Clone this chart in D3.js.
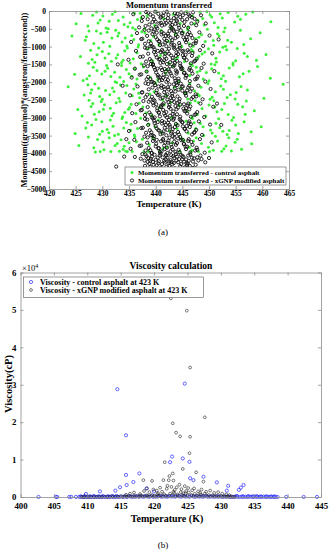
<!DOCTYPE html>
<html><head><meta charset="utf-8">
<script src="https://cdn.jsdelivr.net/npm/d3@7"></script>
<style>
body{margin:0;background:#fff}
text{font-family:"Liberation Serif","Times New Roman",serif}
</style></head><body>
<script>
// ---- (a) momentum transferred: [temperature K, momentum]
var tempTicksA = [420,425,430,435,440,445,450,455,460,465];
var momTicks = [0,-500,-1000,-1500,-2000,-2500,-3000,-3500,-4000,-4500,-5000];
var momControl = [
[432.4,-20],[437.1,-60],[445.8,-15],[450.2,-110],[428.9,-30],[441.5,-210],[453.6,-40],[435.2,-330],[447.9,-260],[426.0,-70],[439.8,-410],[455.4,-150],[430.7,-480],[443.3,-90],[449.1,-390],[433.9,-170],[458.2,-30],[436.6,-240],[451.7,-460],[428.2,-120],[444.6,-350],[440.2,-20],[446.9,-140],[431.3,-290],[454.8,-310],[438.4,-130],[442.9,-470],[425.1,-360],[452.5,-200],[434.8,-440],[448.3,-30],[437.9,-500],[461.6,-300],[429.6,-250],[456.9,-90],
[427.5,-560],[433.1,-620],[439.6,-710],[445.2,-590],[450.8,-830],[455.9,-540],[430.2,-880],[436.8,-950],[442.4,-860],[448.6,-670],[453.1,-990],[424.3,-700],[441.0,-540],[446.3,-920],[431.8,-760],[437.4,-580],[457.8,-780],[434.6,-980],[449.7,-510],[443.7,-640],[428.4,-910],[451.9,-700],[439.1,-830],[435.5,-690],[447.5,-780],[459.6,-610],[432.5,-540],[444.9,-1000],[426.8,-820],[454.2,-880],[440.6,-950],[438.0,-620],
[429.3,-1040],[434.2,-1120],[440.9,-1250],[446.7,-1080],[451.3,-1330],[456.6,-1190],[431.7,-1410],[437.3,-1480],[443.8,-1360],[449.2,-1150],[454.5,-1460],[425.9,-1280],[438.6,-1060],[445.4,-1420],[432.9,-1230],[448.1,-1270],[458.9,-1380],[435.8,-1340],[452.6,-1020],[441.7,-1180],[427.8,-1100],[450.4,-1490],[436.5,-1170],[444.1,-1300],[433.6,-1450],[460.7,-1220],[430.5,-1320],[447.0,-1130],[439.4,-1400],[455.3,-1050],[442.5,-1470],[428.6,-1440],
[430.8,-1530],[436.1,-1620],[441.9,-1740],[447.6,-1580],[452.7,-1820],[457.5,-1690],[427.1,-1900],[434.0,-1980],[439.0,-1870],[445.0,-1650],[450.0,-1960],[424.8,-1780],[443.2,-1550],[448.9,-1910],[432.3,-1720],[437.7,-1570],[455.7,-1850],[435.0,-1760],[453.8,-1600],[440.4,-1930],[429.0,-1670],[446.4,-1810],[438.3,-1700],[451.1,-1510],[433.3,-1860],[459.1,-1560],[431.0,-1610],[444.3,-1990],[426.4,-1950],[449.5,-1730],[442.1,-1640],[461.5,-1890],
[423.6,-2130],[463.9,-2060],[428.0,-2210],[433.4,-2080],[438.9,-2330],[444.7,-2170],[450.6,-2420],[455.1,-2290],[430.0,-2480],[436.3,-2050],[442.0,-2390],[447.3,-2250],[452.2,-2110],[426.6,-2360],[440.0,-2020],[446.0,-2470],[431.9,-2160],[437.0,-2440],[457.2,-2220],[434.4,-2300],[449.8,-2040],[443.5,-2140],[429.5,-2400],[454.0,-2350],[439.7,-2270],[435.9,-2190],[448.2,-2380],[460.3,-2450],[432.7,-2010],[445.6,-2310],[441.3,-2490],[427.3,-2070],
[429.8,-2540],[435.4,-2620],[440.7,-2710],[446.5,-2580],[451.5,-2830],[456.3,-2690],[428.5,-2900],[433.8,-2970],[438.2,-2860],[444.4,-2650],[449.4,-2950],[425.4,-2770],[442.8,-2560],[447.8,-2910],[431.5,-2730],[436.9,-2590],[458.5,-2800],[434.9,-2760],[452.9,-2600],[439.3,-2930],[427.9,-2680],[445.9,-2820],[437.6,-2700],[450.9,-2520],[432.1,-2870],[454.6,-2990],[430.4,-2630],[443.0,-2990],[426.2,-2950],[448.7,-2740],[441.6,-2640],[457.0,-2530],
[428.8,-3050],[434.5,-3130],[439.9,-3260],[445.7,-3090],[450.3,-3340],[455.0,-3200],[431.2,-3420],[436.0,-3480],[442.6,-3370],[448.4,-3160],[453.4,-3470],[426.9,-3290],[440.5,-3060],[446.1,-3430],[432.0,-3240],[437.2,-3010],[457.9,-3390],[435.3,-3350],[451.8,-3030],[443.9,-3190],[429.9,-3110],[449.0,-3500],[438.7,-3180],[444.0,-3310],[433.0,-3460],[459.8,-3250],[430.9,-3330],[447.2,-3140],[441.1,-3410],[454.3,-3070],[424.9,-3440],[452.0,-3280],
[427.4,-3540],[433.5,-3620],[438.8,-3750],[444.8,-3580],[449.9,-3830],[454.9,-3690],[430.3,-3900],[435.6,-3950],[441.4,-3860],[447.1,-3650],[452.4,-3940],[425.6,-3780],[439.5,-3560],[446.8,-3910],[432.8,-3720],[437.5,-3600],[456.1,-3880],[434.1,-3800],[451.2,-3520],[443.1,-3700],[429.1,-3610],[448.0,-3950],[436.4,-3670],[442.2,-3820],[431.6,-3950],[458.0,-3730],[428.7,-3960],[445.3,-3640],[440.8,-3950],[453.7,-3560],[433.2,-3940],[450.1,-3950],[437.8,-3960],[444.5,-3940],[446.6,-3960],[434.7,-3950],
[430.1,-140],[434.1,-380],[436.0,-60],[448.8,-210],[451.0,-330],[453.0,-480],[427.3,-420],[431.9,-90],[446.1,-450],[449.6,-20],[433.0,-270],[455.9,-230],[429.2,-340],[437.3,-190],[452.1,-80],[447.2,-360],[435.7,-470],[450.5,-170],[431.1,-500],
[429.7,-630],[433.7,-870],[436.2,-520],[448.1,-740],[450.9,-960],[452.8,-580],[427.0,-720],[431.4,-990],[446.0,-530],[449.3,-860],[432.9,-700],[456.5,-940],[428.9,-560],[435.9,-800],[451.6,-640],[447.0,-990],[434.3,-760],[453.5,-820],[430.9,-600],
[430.0,-1140],[433.9,-1380],[436.7,-1010],[448.7,-1210],[451.4,-1430],[453.3,-1090],[427.4,-1470],[431.2,-1200],[446.5,-1490],[449.9,-1060],[432.6,-1320],[457.2,-1280],[429.0,-1230],[435.2,-1460],[452.0,-1150],[447.7,-1350],[434.7,-1040],[455.0,-1400],[428.1,-1360],
[429.9,-1770],[433.6,-1530],[436.5,-1910],[448.3,-1680],[451.8,-1740],[453.1,-1970],[428.3,-1580],[431.6,-1840],[446.9,-1530],[450.5,-1620],[432.4,-1990],[456.4,-1760],[430.5,-1690],[435.5,-1830],[452.3,-1900],[447.8,-1710],[434.5,-1640],[454.5,-1520],[427.6,-1820],
[430.6,-2230],[433.1,-2450],[436.8,-2310],[448.5,-2140],[451.2,-2270],[453.4,-2430],[428.6,-2050],[431.4,-2350],[446.4,-2040],[450.2,-2480],[432.2,-2260],[456.0,-2120],[429.3,-2170],[435.6,-2380],[452.7,-2200],[447.9,-2330],[434.6,-2090],[454.9,-2470],[427.8,-2300],
[430.2,-2760],[433.3,-2540],[436.3,-2880],[448.0,-2570],[451.1,-2700],[453.6,-2910],[428.2,-2600],[431.8,-2940],[446.8,-2980],[450.0,-2640],[432.6,-2580],[456.8,-2900],[429.4,-2830],[435.1,-2710],[452.4,-2770],[447.4,-2520],[434.2,-2850],[455.4,-2620],[427.5,-2510],
[430.0,-3380],[433.7,-3020],[436.6,-3300],[448.9,-3250],[451.3,-3150],[453.8,-3360],[428.0,-3200],[431.5,-3060],[446.9,-3020],[450.6,-3430],[432.3,-3500],[456.6,-3110],[429.5,-3460],[435.4,-3180],[452.6,-3380],[447.5,-3300],[434.0,-3290],[455.5,-3440],[427.2,-3130],
[430.1,-3680],[433.9,-3880],[436.1,-3530],[448.6,-3720],[451.6,-3650],[453.2,-3790],[428.4,-3840],[431.3,-3560],[446.3,-3830],[450.8,-3910],[432.4,-3780],[455.3,-3600],[429.6,-3950],[435.0,-3700],[452.8,-3870],[447.6,-3560],[434.4,-3940],[454.2,-3930],[438.6,-3950]
];
var momGnp = [
[438.2,-30],[440.5,-80],[442.1,-20],[443.9,-150],[445.6,-60],[447.3,-220],[439.4,-310],[441.8,-260],[444.3,-400],[446.7,-350],[437.6,-170],[443.0,-480],[440.1,-440],[448.5,-120],[442.7,-330],[445.0,-250],[439.0,-100],[441.2,-410],[444.8,-40],[446.1,-470],[438.8,-380],[443.4,-200],[440.9,-190],[447.8,-300],[436.9,-460],[442.4,-110],[445.3,-420],[439.7,-240],[444.0,-290],[441.5,-50],[443.7,-360],[446.4,-140],[438.5,-230],[440.3,-490],[442.9,-270],[447.0,-40],[435.8,-90],[449.4,-350],[441.0,-330],[444.6,-170],
[437.9,-530],[440.2,-610],[442.6,-560],[444.1,-720],[446.0,-650],[447.6,-840],[439.1,-910],[441.6,-780],[443.5,-960],[445.7,-880],[438.4,-700],[442.0,-990],[440.7,-860],[448.2,-600],[443.1,-820],[445.2,-740],[439.6,-580],[441.3,-940],[444.7,-540],[446.5,-970],[437.3,-790],[443.8,-670],[440.0,-730],[447.1,-920],[436.5,-620],[442.3,-640],[445.9,-810],[439.3,-990],[444.4,-900],[441.9,-700],[443.3,-520],[446.9,-760],[438.7,-850],[440.8,-960],[442.8,-750],[448.9,-980],[435.4,-870],[450.1,-690],[441.1,-590],[444.9,-630],
[438.0,-1030],[440.4,-1120],[442.5,-1060],[444.2,-1210],[446.2,-1150],[447.7,-1340],[439.2,-1410],[441.7,-1280],[443.6,-1460],[445.8,-1380],[438.6,-1200],[442.1,-1490],[440.6,-1360],[448.3,-1100],[443.2,-1320],[445.1,-1240],[439.8,-1080],[441.4,-1440],[444.5,-1040],[446.6,-1470],[437.1,-1290],[443.9,-1170],[440.0,-1230],[447.2,-1420],[436.3,-1120],[442.2,-1140],[445.4,-1310],[439.5,-1490],[444.0,-1400],[441.8,-1200],[443.4,-1020],[446.8,-1260],[438.9,-1350],[440.9,-1460],[442.9,-1250],[449.0,-1480],[434.9,-1370],[450.6,-1190],[441.2,-1090],[445.0,-1130],
[437.8,-1530],[440.3,-1620],[442.7,-1560],[444.0,-1710],[446.3,-1650],[447.9,-1840],[439.0,-1910],[441.5,-1780],[443.7,-1960],[445.6,-1880],[438.3,-1700],[442.0,-1990],[440.8,-1860],[448.6,-1600],[443.0,-1820],[445.3,-1740],[439.7,-1580],[441.2,-1940],[444.6,-1540],[446.4,-1970],[437.0,-1790],[443.8,-1670],[440.1,-1730],[447.4,-1920],[436.1,-1620],[442.4,-1640],[445.8,-1810],[439.4,-1990],[444.3,-1900],[441.9,-1700],[443.5,-1520],[446.9,-1760],[438.6,-1850],[440.7,-1960],[442.8,-1750],[449.3,-1980],[435.5,-1870],[451.0,-1690],[441.0,-1590],[444.8,-1630],
[438.1,-2030],[440.5,-2120],[442.6,-2060],[444.3,-2210],[446.1,-2150],[447.5,-2340],[439.3,-2410],[441.6,-2280],[443.4,-2460],[445.7,-2380],[438.7,-2200],[442.2,-2490],[440.4,-2360],[448.0,-2100],[443.1,-2320],[445.0,-2240],[439.9,-2080],[441.3,-2440],[444.7,-2040],[446.7,-2470],[437.4,-2290],[443.6,-2170],[440.2,-2230],[447.0,-2420],[436.6,-2120],[442.3,-2140],[445.5,-2310],[439.6,-2490],[444.1,-2400],[441.7,-2200],[443.9,-2020],[446.5,-2260],[438.4,-2350],[440.9,-2460],[442.9,-2250],[448.8,-2480],[435.2,-2370],[450.3,-2190],[441.1,-2090],[444.9,-2130],
[437.7,-2530],[440.1,-2620],[442.4,-2560],[444.2,-2710],[446.0,-2650],[447.8,-2840],[439.1,-2910],[441.4,-2780],[443.5,-2960],[445.9,-2880],[438.5,-2700],[442.1,-2990],[440.6,-2860],[448.4,-2600],[443.3,-2820],[445.2,-2740],[439.5,-2580],[441.8,-2940],[444.4,-2540],[446.6,-2970],[437.2,-2790],[443.7,-2670],[440.3,-2730],[447.3,-2920],[436.4,-2620],[442.6,-2640],[445.6,-2810],[439.8,-2990],[444.0,-2900],[441.0,-2700],[443.0,-2520],[446.3,-2760],[438.8,-2850],[440.8,-2960],[442.8,-2750],[449.1,-2980],[435.6,-2870],[450.8,-2690],[441.5,-2590],[444.6,-2630],
[438.0,-3030],[440.4,-3120],[442.5,-3060],[444.1,-3210],[446.2,-3150],[447.6,-3340],[439.2,-3410],[441.7,-3280],[443.6,-3460],[445.8,-3380],[438.6,-3200],[442.0,-3490],[440.7,-3360],[448.1,-3100],[443.2,-3320],[445.1,-3240],[439.7,-3080],[441.3,-3440],[444.5,-3040],[446.8,-3470],[437.3,-3290],[443.8,-3170],[440.0,-3230],[447.2,-3420],[436.2,-3120],[442.3,-3140],[445.4,-3310],[439.4,-3490],[444.2,-3400],[441.9,-3200],[443.4,-3020],[446.4,-3260],[438.9,-3350],[440.9,-3460],[442.7,-3250],[448.7,-3480],[435.0,-3370],[450.2,-3190],[441.2,-3090],[445.0,-3130],
[437.9,-3530],[440.2,-3620],[442.6,-3560],[444.0,-3710],[446.1,-3650],[447.7,-3840],[439.0,-3910],[441.6,-3780],[443.7,-3960],[445.7,-3880],[438.4,-3700],[442.2,-3990],[440.5,-3860],[448.3,-3600],[443.0,-3820],[445.3,-3740],[439.6,-3580],[441.1,-3940],[444.6,-3540],[446.5,-3970],[437.0,-3790],[443.5,-3670],[440.1,-3730],[447.4,-3920],[436.0,-3620],[442.4,-3640],[445.9,-3810],[439.3,-3990],[444.3,-3900],[441.8,-3700],[443.2,-3520],[446.9,-3760],[438.7,-3850],[440.8,-3960],[442.9,-3750],[449.2,-3980],[435.3,-3870],[450.5,-3690],[441.4,-3590],[444.8,-3630],
[437.5,-4020],[438.3,-4080],[439.1,-4150],[439.8,-4040],[440.6,-4220],[441.3,-4110],[442.0,-4060],[442.8,-4190],[443.5,-4130],[444.2,-4250],[445.0,-4070],[445.7,-4170],[446.5,-4030],[447.2,-4140],[448.0,-4200],[438.8,-4290],[440.2,-4330],[441.7,-4260],[443.1,-4310],[444.6,-4360],[446.0,-4280],[447.5,-4320],[437.9,-4200],[439.5,-4240],[440.9,-4010],[442.4,-4280],[443.8,-4020],[445.3,-4230],[446.8,-4120],[448.4,-4060],[441.0,-4400],[443.6,-4420],[445.5,-4390],[439.0,-4380],[442.6,-4350],[444.9,-4440],[447.0,-4410],[438.0,-4350],[436.1,-4100],[434.1,-4090],[432.6,-4370],[449.3,-4250],[450.0,-4130],[441.9,-4170],[444.0,-4090],[440.4,-4120],[446.2,-4210],[438.6,-4130],[443.0,-4240],[445.9,-4330],
[433.8,-2100],[451.8,-800],[434.5,-3600],[452.3,-3200],[432.9,-1500],[451.5,-2600],
[439.9,-20],[441.4,-130],[443.6,-60],[445.4,-310],[438.1,-420],[440.7,-350],[442.3,-200],[444.4,-470],[446.2,-100],[437.4,-280],[443.1,-390],[441.0,-160],[439.2,-490],[445.9,-230],[442.8,-440],[440.0,-300],[444.1,-80],[447.6,-400],[438.6,-50],[443.9,-260],[441.7,-380],[446.8,-180],[439.5,-150],[442.0,-340],[445.1,-120],
[439.8,-520],[441.5,-630],[443.4,-560],[445.5,-810],[438.0,-920],[440.6,-850],[442.4,-700],[444.5,-970],[446.3,-600],[437.5,-780],[443.0,-890],[441.1,-660],[439.0,-990],[445.8,-730],[442.9,-940],[440.3,-800],[444.0,-580],[447.5,-900],[438.7,-550],[443.7,-760],[441.8,-880],[446.6,-680],[439.4,-650],[442.1,-840],[445.0,-620],
[439.6,-1020],[441.3,-1130],[443.5,-1060],[445.3,-1310],[438.2,-1420],[440.8,-1350],[442.5,-1200],[444.6,-1470],[446.0,-1100],[437.6,-1280],[443.2,-1390],[441.0,-1160],[439.1,-1490],[445.6,-1230],[442.7,-1440],[440.2,-1300],[444.2,-1080],[447.4,-1400],[438.4,-1050],[443.8,-1260],[441.6,-1380],[446.9,-1180],[439.7,-1150],[442.0,-1340],[445.2,-1120],
[439.5,-1520],[441.7,-1630],[443.3,-1560],[445.7,-1810],[438.3,-1920],[440.5,-1850],[442.6,-1700],[444.3,-1970],[446.4,-1600],[437.3,-1780],[443.6,-1890],[441.2,-1660],[439.2,-1990],[445.4,-1730],[442.3,-1940],[440.4,-1800],[444.8,-1580],[447.7,-1900],[438.5,-1550],[443.9,-1760],[441.4,-1880],[446.7,-1680],[439.9,-1650],[442.1,-1840],[445.0,-1620],
[439.7,-2020],[441.5,-2130],[443.4,-2060],[445.6,-2310],[438.1,-2420],[440.7,-2350],[442.4,-2200],[444.5,-2470],[446.3,-2100],[437.5,-2280],[443.1,-2390],[441.1,-2160],[439.0,-2490],[445.9,-2230],[442.8,-2440],[440.1,-2300],[444.0,-2080],[447.6,-2400],[438.6,-2050],[443.7,-2260],[441.9,-2380],[446.8,-2180],[439.4,-2150],[442.2,-2340],[445.1,-2120],
[439.8,-2520],[441.3,-2630],[443.5,-2560],[445.4,-2810],[438.0,-2920],[440.6,-2850],[442.5,-2700],[444.6,-2970],[446.1,-2600],[437.4,-2780],[443.2,-2890],[441.0,-2660],[439.3,-2990],[445.7,-2730],[442.7,-2940],[440.3,-2800],[444.1,-2580],[447.5,-2900],[438.7,-2550],[443.9,-2760],[441.6,-2880],[446.5,-2680],[439.6,-2650],[442.0,-2840],[445.3,-2620],
[439.5,-3020],[441.6,-3130],[443.3,-3060],[445.5,-3310],[438.2,-3420],[440.5,-3350],[442.6,-3200],[444.4,-3470],[446.3,-3100],[437.6,-3280],[443.0,-3390],[441.2,-3160],[439.1,-3490],[445.8,-3230],[442.9,-3440],[440.2,-3300],[444.7,-3080],[447.3,-3400],[438.4,-3050],[443.6,-3260],[441.5,-3380],[446.6,-3180],[439.8,-3150],[442.2,-3340],[445.0,-3120],
[439.7,-3520],[441.4,-3630],[443.5,-3560],[445.6,-3810],[438.1,-3920],[440.6,-3850],[442.3,-3700],[444.5,-3970],[446.2,-3600],[437.3,-3780],[443.2,-3890],[441.0,-3660],[439.2,-3990],[445.3,-3730],[442.8,-3940],[440.0,-3800],[444.2,-3580],[447.8,-3900],[438.5,-3550],[443.8,-3760],[441.7,-3880],[446.7,-3680],[439.5,-3650],[442.1,-3840],[445.1,-3620],
[438.1,-4030],[439.3,-4090],[440.0,-4180],[440.8,-4060],[441.6,-4210],[442.2,-4120],[442.9,-4050],[443.4,-4270],[444.4,-4160],[445.2,-4100],[446.1,-4060],[447.0,-4230],[447.8,-4110],[439.0,-4200],[441.2,-4300],[443.9,-4200],[445.8,-4280],[438.5,-4240],[440.5,-4280],[442.5,-4230],[444.8,-4300],[446.4,-4350],[437.2,-4150],[448.6,-4160],[441.9,-4040],[443.3,-4080],[444.7,-4040],[439.6,-4320],[442.0,-4380],[445.0,-4170]
];

// ---- (b) viscosity: [temperature K, viscosity cP]
var tempTicksB = [400,405,410,415,420,425,430,435,440,445];
var viscTicks = [0,10000,20000,30000,40000,50000,60000];
var viscControl = [
[402.7,20],[405.3,30],[405.5,10],[407.3,20],[407.6,40],[408.3,10],[408.8,30],[409.1,80],[409.4,20],[409.7,50],[409.8,800],[410.0,10],[410.3,60],[410.6,30],[410.9,90],[411.2,20],[411.5,40],[411.8,70],[411.9,1500],[412.1,20],[412.4,110],[412.7,30],[413.0,60],[413.3,20],[413.6,140],[413.9,50],[414.2,1700],[414.2,30],[414.5,28800],[414.5,90],[414.8,40],[414.9,2600],[415.1,160],[415.4,60],[415.8,16500],[415.8,5900],[415.9,3200],[415.7,120],[416.0,30],[416.3,210],[416.6,80],[416.9,4000],[416.9,150],[417.2,40],[417.5,260],[417.8,6300],[417.8,90],[418.1,180],[418.4,50],[418.7,300],[418.9,2300],[419.0,120],[419.3,70],[419.6,240],[420.0,1500],[419.9,40],[420.2,160],[420.5,90],[420.8,310],[421.1,60],[421.4,200],[421.7,130],[422.0,50],[422.4,9300],[422.3,270],[422.7,10800],[422.6,110],[422.9,190],[423.2,60],[423.5,330],[423.8,140],[424.1,80],[424.3,10300],[424.4,250],[424.6,30300],[424.7,100],[425.0,170],[425.3,9400],[425.4,5000],[425.3,60],[425.6,290],[425.9,4500],[425.9,120],[426.2,50],[426.5,220],[426.8,90],[427.1,160],[427.4,5400],[427.4,40],[427.7,260],[428.0,110],[428.3,70],[428.6,200],[428.9,50],[429.2,150],[429.4,3900],[429.5,90],[429.8,230],[430.1,40],[430.4,120],[430.7,70],[430.9,1700],[431.0,180],[431.1,3000],[431.3,50],[431.6,100],[431.9,30],[432.2,140],[432.5,60],[432.7,1900],[432.8,20],[433.0,2500],[433.1,90],[433.4,3200],[433.4,40],[433.7,70],[434.0,20],[434.3,110],[434.6,50],[434.9,30],[435.2,80],[435.5,20],[435.8,60],[436.1,30],[436.4,90],[436.7,20],[437.0,50],[437.3,30],[437.6,70],[437.9,20],[438.2,40],[438.5,10],[439.8,20],[442.4,10],[444.4,20],
[409.0,150],[409.6,200],[410.4,180],[411.0,250],[411.7,160],[412.3,230],[413.1,190],[413.8,280],[414.4,220],[432.4,260],[433.3,180],[434.1,230],[434.8,160],[435.4,210],[436.0,140],[436.8,180],[437.5,120],[438.0,150]
];
var viscGnp = [
[409.2,30],[409.5,10],[409.9,50],[410.2,20],[410.6,40],[411.0,10],[411.4,60],[411.8,30],[412.2,20],[412.6,70],[413.0,40],[413.4,90],[413.8,30],[414.2,120],[414.6,60],[415.0,150],[415.3,40],[415.6,200],[415.9,90],[416.2,260],[416.5,130],[416.8,60],[417.1,310],[417.4,170],[417.7,80],[418.0,380],[418.3,220],[418.4,4500],[418.6,110],[418.9,2300],[418.9,450],[419.1,250],[419.4,160],[419.7,4300],[419.7,520],[420.0,300],[420.2,120],[420.5,680],[420.7,210],[421.0,420],[421.3,150],[421.4,4500],[421.6,9300],[421.5,760],[421.8,330],[422.1,190],[422.2,4500],[422.3,5600],[422.4,900],[422.5,53100],[422.7,400],[422.8,6300],[422.8,19700],[422.9,4400],[423.0,1100],[423.2,250],[423.3,17200],[423.5,700],[423.7,350],[423.9,16200],[424.0,1300],[424.2,480],[424.3,7500],[424.5,220],[424.7,950],[424.9,49800],[425.0,380],[425.3,11700],[425.2,1200],[425.4,34600],[425.4,16100],[425.6,540],[425.9,280],[426.1,850],[426.3,6600],[426.4,410],[426.7,190],[427.0,640],[427.3,330],[427.4,4100],[427.6,21300],[427.6,900],[427.9,240],[428.2,520],[428.5,160],[428.8,400],[429.1,130],[429.4,330],[429.7,90],[430.0,250],[430.3,70],[430.6,180],[430.9,50],[431.2,120],[431.5,30],[431.8,60],[432.1,20],
[417.0,1200],[417.9,800],[418.5,1600],[419.3,1300],[419.9,2000],[420.4,1700],[420.9,2500],[421.2,1400],[421.9,2200],[422.0,3000],[422.6,2700],[423.1,1900],[423.4,2600],[423.8,3300],[424.1,2100],[424.6,2900],[424.8,1600],[425.1,2400],[425.7,1800],[426.0,2300],[426.6,1500],[427.1,2000],[427.8,1400],[428.4,1700],[429.0,1100],[429.6,1300],[430.2,900],[430.8,700],[431.3,500],[416.4,900],[415.8,600],[420.6,1000],[422.9,1400],[424.4,1000],[426.9,1100]
];

var axisGray = "#8c8c8c";
var svg = d3.select("body").append("svg")
    .attr("width", 331).attr("height", 550)
    .style("background", "#fff");

// draws a matlab style box with inward ticks on all four sides
function drawBox(x, y, xt, yt, yfmt, fs, padB, padL) {
    var x0 = x.range()[0], x1 = x.range()[1];
    var yb = y.range()[0], yt0 = y.range()[1];
    var gb = svg.append("g").attr("transform", "translate(0," + yb + ")")
        .call(d3.axisBottom(x).tickValues(xt).tickSize(-3).tickSizeOuter(0).tickPadding(padB).tickFormat(d3.format("d")));
    var gl = svg.append("g").attr("transform", "translate(" + x0 + ",0)")
        .call(d3.axisLeft(y).tickValues(yt).tickSize(-3).tickSizeOuter(0).tickPadding(padL).tickFormat(yfmt));
    svg.append("g").attr("transform", "translate(0," + yt0 + ")")
        .call(d3.axisTop(x).tickValues(xt).tickSize(-3).tickSizeOuter(0).tickFormat(""));
    svg.append("g").attr("transform", "translate(" + x1 + ",0)")
        .call(d3.axisRight(y).tickValues(yt).tickSize(-3).tickSizeOuter(0).tickFormat(""));
    svg.selectAll(".domain, .tick line").attr("stroke", axisGray).attr("stroke-width", 0.8);
    [gb, gl].forEach(function(g) {
        g.selectAll("text")
            .attr("font-family", "Liberation Serif")
            .attr("font-weight", "bold")
            .attr("font-size", fs + "px")
            .attr("fill", "#000");
    });
}

// ================= (a) =================
var xA = d3.scaleLinear().domain([420, 465]).range([49, 289]);
var yA = d3.scaleLinear().domain([-5000, 0]).range([189, 11]);

svg.append("g").selectAll("circle")
    .data(momControl).enter().append("circle")
    .attr("cx", function(d) { return xA(d[0]); })
    .attr("cy", function(d) { return yA(d[1]); })
    .attr("r", 1.5)
    .attr("fill", "#3cf03c");

svg.append("g").selectAll("circle")
    .data(momGnp).enter().append("circle")
    .attr("cx", function(d) { return xA(d[0]); })
    .attr("cy", function(d) { return yA(d[1]); })
    .attr("r", 1.6)
    .attr("fill", "none")
    .attr("stroke", "#111")
    .attr("stroke-width", 0.9);

drawBox(xA, yA, tempTicksA, momTicks, d3.format("d"), 7.5, 2, 3);

svg.append("text").attr("x", 169).attr("y", 8).attr("text-anchor", "middle")
    .attr("font-weight", "bold").attr("font-size", "8.5px").text("Momentum transferred");
svg.append("text").attr("x", 169).attr("y", 207).attr("text-anchor", "middle")
    .attr("font-weight", "bold").attr("font-size", "9px").text("Temperature (K)");
svg.append("text").attr("transform", "translate(27,100) rotate(-90)").attr("text-anchor", "middle")
    .attr("font-weight", "bold").attr("font-size", "8.2px").text("Momentum((gram/mol)*(angstrom/femtosecond))");
svg.append("text").attr("x", 163).attr("y", 235).attr("text-anchor", "middle")
    .attr("font-size", "9px").text("(a)");

// legend (a)
var legA = svg.append("g");
legA.append("rect").attr("x", 125).attr("y", 167).attr("width", 161).attr("height", 18)
    .attr("fill", "#fff").attr("stroke", "#555").attr("stroke-width", 0.6);
legA.append("circle").attr("cx", 132).attr("cy", 172.5).attr("r", 1.5).attr("fill", "#3cf03c");
legA.append("circle").attr("cx", 132).attr("cy", 180.5).attr("r", 1.6)
    .attr("fill", "none").attr("stroke", "#111").attr("stroke-width", 0.9);
legA.append("text").attr("x", 138).attr("y", 175).attr("font-weight", "bold").attr("font-size", "7px")
    .text("Momentum transferred - control asphalt");
legA.append("text").attr("x", 138).attr("y", 183).attr("font-weight", "bold").attr("font-size", "7px")
    .text("Momentum transferred - xGNP modified asphalt");

// ================= (b) =================
var xB = d3.scaleLinear().domain([400, 445]).range([20.5, 321]);
var yB = d3.scaleLinear().domain([0, 60000]).range([497, 272.5]);

svg.append("g").selectAll("circle")
    .data(viscControl).enter().append("circle")
    .attr("cx", function(d) { return xB(d[0]); })
    .attr("cy", function(d) { return yB(d[1]); })
    .attr("r", 1.6)
    .attr("fill", "none")
    .attr("stroke", "#2626ff")
    .attr("stroke-width", 0.7);

svg.append("g").selectAll("circle")
    .data(viscGnp).enter().append("circle")
    .attr("cx", function(d) { return xB(d[0]); })
    .attr("cy", function(d) { return yB(d[1]); })
    .attr("r", 1.4)
    .attr("fill", "none")
    .attr("stroke", "#222")
    .attr("stroke-width", 0.6);

drawBox(xB, yB, tempTicksB, viscTicks, function(d) { return d / 10000; }, 8.8, 5.5, 4);

var ex = svg.append("text").attr("x", 22).attr("y", 271).attr("font-size", "8.5px");
ex.append("tspan").text("\u00d710");
ex.append("tspan").attr("dy", -3.5).attr("font-size", "6px").text("4");

svg.append("text").attr("x", 171).attr("y", 268.5).attr("text-anchor", "middle")
    .attr("font-weight", "bold").attr("font-size", "9.5px").text("Viscosity calculation");
svg.append("text").attr("x", 167).attr("y", 522).attr("text-anchor", "middle")
    .attr("font-weight", "bold").attr("font-size", "10px").text("Temperature (K)");
svg.append("text").attr("transform", "translate(12,384) rotate(-90)").attr("text-anchor", "middle")
    .attr("font-weight", "bold").attr("font-size", "10.5px").text("Viscosity(cP)");
svg.append("text").attr("x", 163).attr("y", 548).attr("text-anchor", "middle")
    .attr("font-size", "9px").text("(b)");

// legend (b)
var legB = svg.append("g");
legB.append("rect").attr("x", 23.5).attr("y", 277).attr("width", 180).attr("height", 20.5)
    .attr("fill", "#fff").attr("stroke", "#555").attr("stroke-width", 0.6);
legB.append("circle").attr("cx", 31).attr("cy", 282).attr("r", 1.6)
    .attr("fill", "none").attr("stroke", "#2626ff").attr("stroke-width", 0.7);
legB.append("circle").attr("cx", 31).attr("cy", 290).attr("r", 1.4)
    .attr("fill", "none").attr("stroke", "#222").attr("stroke-width", 0.6);
legB.append("text").attr("x", 40).attr("y", 284.5).attr("font-weight", "bold").attr("font-size", "8px")
    .text("Viscosity - control asphalt at 423 K");
legB.append("text").attr("x", 40).attr("y", 292.8).attr("font-weight", "bold").attr("font-size", "8px")
    .text("Viscosity - xGNP modified asphalt at 423 K");
</script>
</body></html>
